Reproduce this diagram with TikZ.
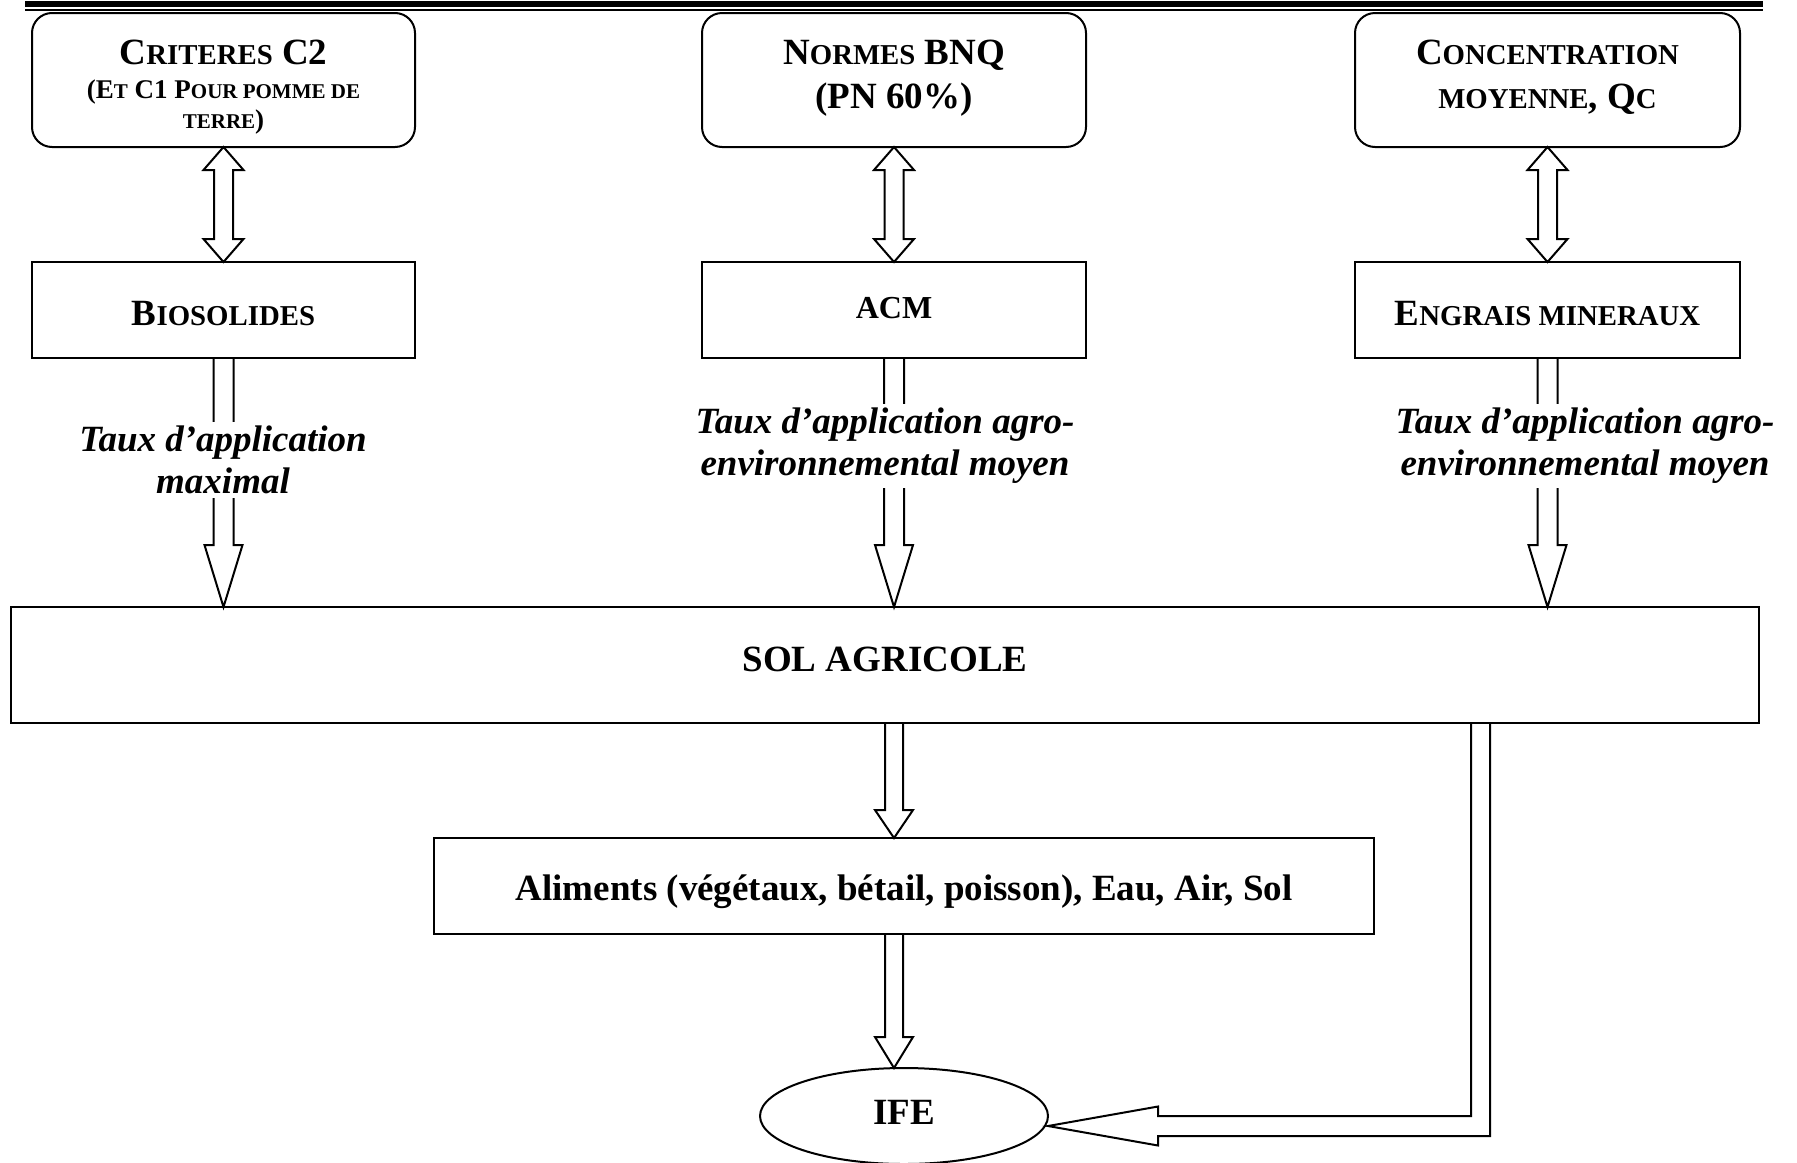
\documentclass[tikz,border=0pt]{standalone}
\usepackage{fontspec}
\setmainfont{Liberation Serif}
\usetikzlibrary{calc,shapes.geometric}
\newcommand\sk[1]{{\fontsize{14.4pt}{16pt}\selectfont #1}}
\newcommand\skk[1]{{\fontsize{10.5pt}{12pt}\selectfont #1}}
\newcommand\bl[2]{\raisebox{-#1}[0pt][0pt]{#2}}
% hollow arrow pointing down: #1 start, #2 tip, #3 shaft half width, #4 head half width, #5 head length
\newcommand\hollowdown[5]{\draw[arr] ($#1+(-#3,0)$) -- ($#2+(-#3,-#5)$) -- ($#2+(-#4,-#5)$) -- #2 -- ($#2+(#4,-#5)$) -- ($#2+(#3,-#5)$) -- ($#1+(#3,0)$);}
% hollow double-headed vertical arrow: #1 top tip, #2 bottom tip
\newcommand\hollowboth[5]{\draw[arr] #1 -- ($#1+(#4,#5)$) -- ($#1+(#3,#5)$) -- ($#2+(#3,-#5)$) -- ($#2+(#4,-#5)$) -- #2 -- ($#2+(-#4,-#5)$) -- ($#2+(-#3,-#5)$) -- ($#1+(-#3,#5)$) -- ($#1+(-#4,#5)$) -- cycle;}
\begin{document}
\begin{tikzpicture}[x=0.5pt,y=-0.5pt,
  box/.style={draw, line width=1pt, inner sep=0pt, outer sep=0pt},
  rbox/.style={box, rounded corners=10pt, minimum height=67pt},
  midbox/.style={box, minimum height=48pt},
  main/.style={font=\fontsize{18.5pt}{21pt}\selectfont\bfseries},
  small/.style={font=\fontsize{13.5pt}{15pt}\selectfont\bfseries},
  lbl/.style={fill=white, inner sep=2pt, align=center, font=\fontsize{18.5pt}{21pt}\selectfont\bfseries\itshape},
  arr/.style={draw, line width=1pt, line join=miter}]
\useasboundingbox (0,0) rectangle (1797,1162);
% header rule
\draw[line width=3pt] (25,4) -- (1763,4);
\draw[line width=0.7pt] (25,10) -- (1763,10);
% top boxes
\node[rbox, minimum width=191.5pt] (crit) at (223.5,80) {};
\node[rbox, minimum width=192pt] (norm) at (894,80) {};
\node[rbox, minimum width=192.5pt] (conc) at (1547.5,80) {};
\node[main, anchor=base] (crit1) at (223.5,64) {C\sk{RITERES} C2};
\node[small, anchor=base] (crit2) at (223.5,98) {(E\skk{T} C1 P\skk{OUR POMME DE}};
\node[small, anchor=base] (crit3) at (223.5,128) {\skk{TERRE})};
\node[main, anchor=base] (norm1) at (894,64) {N\sk{ORMES} BNQ};
\node[main, anchor=base] (norm2) at (894,108) {(PN 60\%)};
\node[main, anchor=base] (conc1) at (1547.5,64) {C\sk{ONCENTRATION}};
\node[main, anchor=base] (conc2) at (1547.5,108) {\sk{MOYENNE}, Q\sk{C}};
% middle boxes
\node[midbox, main, minimum width=191.5pt] (bio) at (223.5,310) {\bl{7.5pt}{B\sk{IOSOLIDES}}};
\node[midbox, font=\fontsize{16pt}{18pt}\selectfont\bfseries, minimum width=192pt] (acm) at (894,310) {\bl{4pt}{ACM}};
\node[midbox, main, minimum width=192.5pt] (eng) at (1547.5,310) {\bl{7.5pt}{E\sk{NGRAIS MINERAUX}}};
% soil
\node[box, main, minimum width=874pt, minimum height=58pt] (sol) at (885,665) {\bl{3pt}{SOL AGRICOLE}};
\node[box, main, minimum width=470pt, minimum height=48pt] (alim) at (904,886) {\bl{7pt}{Aliments (végétaux, bétail, poisson), Eau, Air, Sol}};
\node[box, main, ellipse, minimum width=144pt, minimum height=48pt] (ife) at (904,1116) {\bl{4pt}{IFE}};
% double arrows
\hollowboth{(crit.south)}{(bio.north)}{9.5}{20}{23}
\hollowboth{(norm.south)}{(acm.north)}{9.5}{20}{23}
\hollowboth{(conc.south)}{(eng.north)}{9.5}{20}{23}
% down arrows to soil
\hollowdown{(bio.south)}{(bio.south |- sol.north)}{10}{19}{62}
\hollowdown{(acm.south)}{(acm.south |- sol.north)}{10}{19}{62}
\hollowdown{(eng.south)}{(eng.south |- sol.north)}{10}{19}{62}
% labels
\node[lbl] (l1) at (223,460) {Taux d’application\\maximal};
\node[lbl] (l2) at (885,446) {Taux d’application agro-\\environnemental moyen};
\node[lbl] (l3) at (1585,446) {Taux d’application agro-\\environnemental moyen};
% soil to food, food to IFE
\hollowdown{(sol.south -| acm.south)}{(acm.south |- alim.north)}{9}{19}{28}
\hollowdown{(alim.south -| acm.south)}{(acm.south |- ife.north)}{9}{19}{31}
% L-shaped arrow from soil to IFE
\coordinate (lx) at (1480.5,0);
\coordinate (tip) at ($(ife.east)+(0,10)$);
\draw[arr] ($(lx |- sol.south)+(-9.5,0)$) -- ($(lx |- tip)+(-9.5,-10)$) -- ($(tip)+(110,-10)$) -- ($(tip)+(110,-19.5)$) -- (tip) -- ($(tip)+(110,19.5)$) -- ($(tip)+(110,10)$) -- ($(lx |- tip)+(9.5,10)$) -- ($(lx |- sol.south)+(9.5,0)$);
\end{tikzpicture}
\end{document}
